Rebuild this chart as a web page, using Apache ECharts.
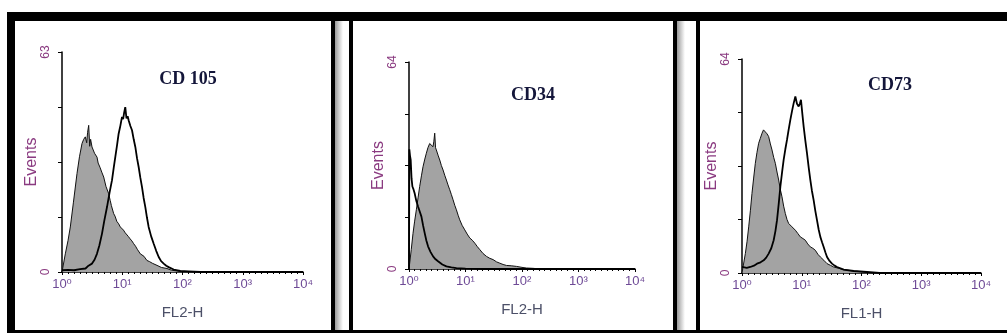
<!DOCTYPE html>
<html><head><meta charset="utf-8">
<script src="https://cdn.jsdelivr.net/npm/echarts@6/dist/echarts.min.js"></script>
<style>html,body{margin:0;padding:0;background:#fff;overflow:hidden}#c{width:1007px;height:336px}</style>
</head><body><div id="c"></div>
<script>
// ---- data (x = log10 of fluorescence channel, y = events) ----
const panelTitles = ['CD 105', 'CD34', 'CD73'];
const xAxisNames = ['FL2-H', 'FL2-H', 'FL1-H'];
const yAxisName = 'Events';
const yMax = [63, 64, 64];
const xTickLabels = ['10\u2070', '10\u00b9', '10\u00b2', '10\u00b3', '10\u2074'];

const cd105Isotype = [[0,0],[0.017,0.5],[0.055,5.2],[0.1,9],[0.138,12.9],[0.19,20],[0.249,28.2],[0.29,33],[0.332,36.8],[0.36,38],[0.387,38.7],[0.41,37],[0.425,40],[0.443,42],[0.46,36],[0.475,38],[0.498,35.8],[0.54,34],[0.581,32.9],[0.6,31.2],[0.63,30],[0.66,28.6],[0.692,27.2],[0.73,24.5],[0.775,22.4],[0.8,20.5],[0.82,19],[0.858,16.7],[0.88,16],[0.91,14.5],[0.94,13.8],[0.968,12.9],[1.0,12.4],[1.02,12],[1.05,11.2],[1.079,11],[1.1,10.2],[1.13,9.5],[1.16,8.9],[1.19,8.1],[1.22,7.4],[1.25,6.5],[1.28,6],[1.3,5.2],[1.33,5.1],[1.36,4.5],[1.41,3.3],[1.45,3],[1.5,2.5],[1.577,1.9],[1.65,1.3],[1.743,1],[1.82,0.5],[1.91,0.3],[2.0,0],[4,0]];
const cd105Marker = [[0,0.5],[0.1,0.6],[0.2,0.5],[0.3,0.8],[0.39,1],[0.44,1.8],[0.498,2.4],[0.54,3.5],[0.58,5.2],[0.62,7.6],[0.664,11],[0.7,14.5],[0.747,18.6],[0.79,22.8],[0.83,26.3],[0.86,30],[0.885,33],[0.915,36.5],[0.94,39.6],[0.97,42],[0.996,44.4],[1.015,43.8],[1.03,45.5],[1.05,47.2],[1.07,44],[1.09,44.6],[1.107,43.4],[1.135,41.8],[1.162,40.6],[1.19,38],[1.217,35.8],[1.245,32.6],[1.273,30],[1.3,27],[1.328,24.3],[1.355,21.2],[1.383,18.6],[1.41,15.6],[1.438,12.9],[1.48,10.2],[1.522,8.1],[1.565,6],[1.605,4.3],[1.645,3.1],[1.688,2.4],[1.73,1.8],[1.77,1.4],[1.853,0.7],[1.964,0.3],[2.1,0.2],[2.3,0],[4,0]];

const cd34Isotype = [[0,0],[0.012,1.8],[0.04,6],[0.071,11],[0.1,14.8],[0.13,18.3],[0.16,22],[0.189,25.5],[0.22,28.8],[0.248,31.6],[0.28,34],[0.307,35.8],[0.335,37.5],[0.366,38.8],[0.395,38.2],[0.425,37.8],[0.44,39.5],[0.455,42],[0.47,37.5],[0.484,36.8],[0.514,35.2],[0.544,33.7],[0.573,32],[0.603,30.6],[0.632,29],[0.662,27.5],[0.69,26],[0.721,24.5],[0.75,23],[0.78,21.4],[0.81,19.7],[0.839,18.3],[0.87,16.6],[0.898,15.2],[0.94,13.5],[0.987,12.1],[1.03,10.8],[1.075,9.6],[1.12,8.9],[1.164,8],[1.21,6.9],[1.253,6],[1.31,4.8],[1.371,3.9],[1.43,3.3],[1.489,2.9],[1.55,2.2],[1.607,1.8],[1.665,1.4],[1.725,1.1],[1.81,1],[1.903,0.8],[2.0,0.5],[2.08,0.3],[2.2,0.2],[2.316,0],[4,0]];
const cd34Marker = [[0,0],[0.006,37],[0.018,35],[0.03,33.7],[0.045,28],[0.06,25.5],[0.08,24.6],[0.1,23.4],[0.13,21],[0.16,19.3],[0.19,17.8],[0.22,16.2],[0.25,13.4],[0.278,11.1],[0.307,8.8],[0.337,7],[0.38,5.3],[0.426,3.9],[0.47,3],[0.514,2.4],[0.59,1.4],[0.662,0.8],[0.75,0.5],[0.84,0.3],[1.0,0.1],[1.3,0],[4,0]];

const cd73Isotype = [[0,0],[0.017,1.8],[0.056,5.8],[0.085,9.5],[0.112,13.8],[0.14,18.6],[0.167,23.8],[0.195,28.4],[0.223,32.8],[0.25,36],[0.279,38.8],[0.305,40.2],[0.335,41.8],[0.36,42.8],[0.391,42.5],[0.42,41.6],[0.446,40.8],[0.475,38.6],[0.502,36.8],[0.53,34.6],[0.558,32.8],[0.586,30.2],[0.614,27.8],[0.64,25.1],[0.669,22.8],[0.697,20],[0.725,17.8],[0.753,16],[0.781,14.8],[0.81,14.3],[0.837,13.8],[0.865,13.4],[0.893,12.8],[0.935,11.8],[0.976,10.8],[1.02,10.3],[1.06,9.8],[1.1,8.7],[1.144,7.8],[1.185,7.4],[1.227,6.8],[1.27,5.6],[1.311,4.8],[1.37,3.8],[1.423,2.8],[1.48,2.3],[1.534,1.8],[1.62,1.4],[1.702,1],[1.869,0.6],[2.036,0.3],[2.2,0],[4,0]];
const cd73Marker = [[0,1.8],[0.028,1.8],[0.08,1.5],[0.139,1.8],[0.2,2.2],[0.251,2.8],[0.31,3.2],[0.363,3.8],[0.405,4.6],[0.446,5.8],[0.49,7.4],[0.53,9.8],[0.56,12.6],[0.586,15.8],[0.614,20.6],[0.642,25.8],[0.67,30],[0.697,33.8],[0.725,37],[0.753,39.8],[0.78,42.8],[0.809,45.8],[0.837,48.4],[0.865,50.8],[0.893,52.8],[0.92,50.6],[0.948,49.8],[0.968,50.6],[0.987,51.8],[1.01,47.6],[1.032,43.8],[1.06,39.6],[1.088,35.8],[1.116,31.6],[1.144,27.8],[1.17,24.6],[1.199,21.8],[1.227,18.6],[1.255,15.8],[1.283,13],[1.311,10.8],[1.34,9.2],[1.367,7.8],[1.395,6.2],[1.423,4.8],[1.465,3.6],[1.506,2.8],[1.55,2.2],[1.59,1.8],[1.702,1],[1.869,0.6],[2.092,0.3],[2.3,0],[4,0]];

const isotypeSeries = [cd105Isotype, cd34Isotype, cd73Isotype];
const markerSeries = [cd105Marker, cd34Marker, cd73Marker];

// ---- layout ----
const grids = [
  {left: 62, top: 52, width: 241, height: 220},
  {left: 409, top: 62, width: 226, height: 207},
  {left: 742, top: 59, width: 239, height: 214}
];
const titlePos = [[188, 79], [533, 95], [890, 85]];

const sans = "'Liberation Sans', Arial, 'DejaVu Sans', sans-serif";
const serif = "'Liberation Serif', 'Times New Roman', serif";

const xAxes = [], yAxes = [], series = [];
for (let i = 0; i < 3; i++) {
  xAxes.push({
    gridIndex: i, type: 'value', min: 0, max: 4, interval: 1,
    name: xAxisNames[i], nameLocation: 'middle', nameGap: 33,
    nameTextStyle: {color: '#4c5068', fontSize: 15, fontFamily: sans},
    axisLine: {show: true, onZero: false, lineStyle: {color: '#000', width: 1.5}},
    axisTick: {show: true, length: 3, lineStyle: {color: '#000', width: 1}},
    minorTick: {show: true, splitNumber: 10, length: 2, lineStyle: {color: '#000', width: 1}},
    splitLine: {show: false},
    axisLabel: {formatter: v => xTickLabels[Math.round(v)], color: '#6e4a96', fontSize: 13, margin: 6, fontFamily: sans}
  });
  const m = yMax[i];
  yAxes.push({
    gridIndex: i, type: 'value', min: 0, max: m, interval: m / 4,
    name: yAxisName, nameLocation: 'middle', nameGap: 20, nameRotate: 90,
    nameTextStyle: {color: '#8a3a80', fontSize: 16, fontFamily: sans},
    axisLine: {show: true, lineStyle: {color: '#000', width: 1.5}},
    axisTick: {show: true, length: 4, lineStyle: {color: '#000', width: 1}},
    splitLine: {show: false},
    axisLabel: {rotate: 90, margin: 10, color: '#8a3a80', fontSize: 12, fontFamily: sans,
      formatter: v => (Math.abs(v) < 1e-6 || Math.abs(v - m) < 1e-6) ? String(Math.round(v)) : ''}
  });
  series.push({
    type: 'line', xAxisIndex: i, yAxisIndex: i, data: isotypeSeries[i],
    showSymbol: false, silent: true, z: 2,
    lineStyle: {color: '#111', width: 1},
    areaStyle: {color: '#a3a3a3', opacity: 1}
  });
  series.push({
    type: 'line', xAxisIndex: i, yAxisIndex: i, data: markerSeries[i],
    showSymbol: false, silent: true, z: 3,
    lineStyle: {color: '#000', width: 1.8}
  });
}

const graphic = [
  // frame
  {type: 'rect', shape: {x: 7, y: 12, width: 1000, height: 9}, style: {fill: '#000'}},
  {type: 'rect', shape: {x: 7, y: 12, width: 8, height: 321}, style: {fill: '#000'}},
  {type: 'rect', shape: {x: 7, y: 330, width: 1000, height: 3}, style: {fill: '#000'}},
  {type: 'rect', shape: {x: 331, y: 12, width: 4, height: 321}, style: {fill: '#000'}},
  {type: 'rect', shape: {x: 335, y: 21, width: 8, height: 309}, style: {fill: new echarts.graphic.LinearGradient(0, 0, 1, 0, [{offset: 0, color: '#9a9a9a'}, {offset: 1, color: '#ffffff'}])}},
  {type: 'rect', shape: {x: 349, y: 12, width: 4, height: 321}, style: {fill: '#000'}},
  {type: 'rect', shape: {x: 673, y: 12, width: 4, height: 321}, style: {fill: '#000'}},
  {type: 'rect', shape: {x: 677, y: 21, width: 8, height: 309}, style: {fill: new echarts.graphic.LinearGradient(0, 0, 1, 0, [{offset: 0, color: '#9a9a9a'}, {offset: 1, color: '#ffffff'}])}},
  {type: 'rect', shape: {x: 696, y: 12, width: 4, height: 321}, style: {fill: '#000'}}
];
for (let i = 0; i < 3; i++) {
  graphic.push({type: 'text', x: titlePos[i][0], y: titlePos[i][1],
    style: {text: panelTitles[i], fill: '#14163a', font: 'bold 18px ' + serif, align: 'center', verticalAlign: 'middle'}});
}

const chart = echarts.init(document.getElementById('c'), null, {renderer: 'canvas'});
chart.setOption({
  animation: false,
  backgroundColor: '#fff',
  grid: grids,
  xAxis: xAxes,
  yAxis: yAxes,
  series: series,
  graphic: graphic
});
</script>
</body></html>
